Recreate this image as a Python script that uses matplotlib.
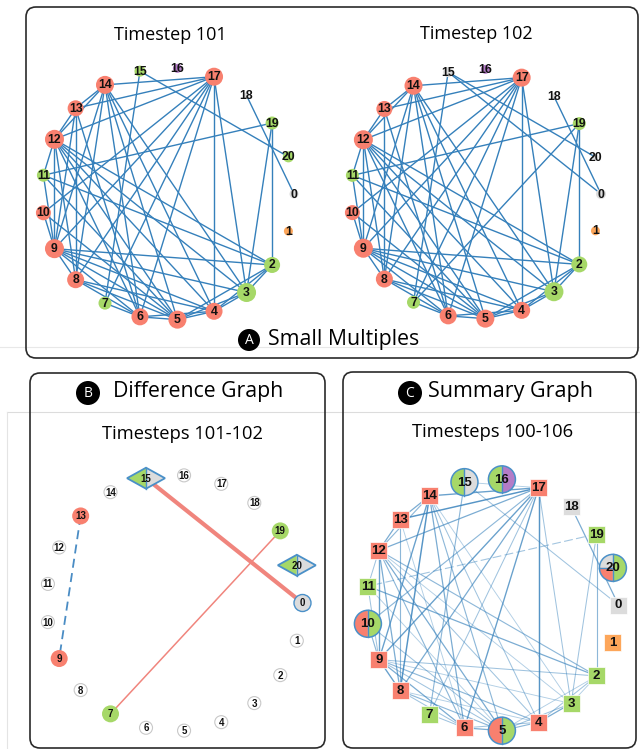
import numpy as np
import matplotlib.pyplot as plt
from matplotlib.patches import Circle, Wedge, Rectangle, Polygon, FancyBboxPatch

N_NODES = 21

RED = "#F8806F"
GREEN = "#A6D868"
PURPLE = "#B47CC7"
GRAY = "#DCDCDC"
ORANGE = "#FDA65A"
EDGE_BLUE = "#3580BB"
OUTLINE_BLUE = "#4A90C8"
DIFF_RED = "#F0857D"

# node group per timestep (index = node id)
groups_101 = ["gray", "orange", "green", "green", "red", "red", "red", "green", "red", "red", "red",
              "green", "red", "red", "red", "green", "purple", "red", "gray", "green", "green"]
groups_102 = ["gray", "orange", "green", "green", "red", "red", "red", "green", "red", "red", "red",
              "green", "red", "red", "red", "gray", "purple", "red", "gray", "green", "gray"]

# node radius (px) per timestep
sizes_101 = [4.5, 4.5, 8, 9.5, 8.5, 9, 8.5, 6.5, 8.5, 9.5, 7.5, 6.5, 9.5, 8, 9, 5.5, 4.5, 9, 3, 6.5, 5.5]
sizes_102 = [5, 4.5, 8, 9.5, 8.5, 9, 8.5, 6.5, 8.5, 9.5, 7.5, 6.5, 9.5, 8, 9, 5, 4.5, 9, 3, 6.5, 3]

edges_101 = [
    (17, 14), (17, 13), (17, 12), (17, 10), (17, 9), (17, 8), (17, 7), (17, 6), (17, 4), (17, 3),
    (15, 20), (15, 7), (18, 0), (19, 11), (19, 2), (19, 3),
    (14, 13), (14, 12), (14, 9), (14, 8), (14, 6), (14, 5), (14, 4), (14, 3),
    (13, 12), (13, 9), (13, 8), (13, 6),
    (12, 11), (12, 9), (12, 8), (12, 6), (12, 5), (12, 4), (12, 3), (12, 2),
    (11, 9), (11, 5), (11, 2), (10, 9), (10, 5),
    (9, 8), (9, 6), (9, 5), (9, 4), (9, 3), (9, 2),
    (8, 6), (8, 5), (8, 4), (7, 6), (6, 5), (6, 4),
    (5, 4), (5, 3), (5, 2), (4, 3), (4, 2), (3, 2),
]
edges_removed = [(13, 9)]
edges_added = [(15, 0), (7, 19)]
added_widths = [3.0, 1.1]
edges_102 = [e for e in edges_101 if e not in edges_removed] + edges_added

# difference graph: nodes touched by a change, nodes that changed group
diff_nodes = {13: RED, 9: RED, 19: GREEN, 7: GREEN, 0: GRAY}
diff_changed = [15, 20]

# summary graph: number of timesteps (out of 7) each edge appears in
summary_edges = [
    (17, 14, 6), (17, 13, 7), (17, 12, 5), (17, 10, 4), (17, 9, 6), (17, 8, 5), (17, 7, 3),
    (17, 6, 6), (17, 4, 7), (17, 3, 3), (15, 17, 2), (15, 0, 3), (15, 7, 4), (18, 0, 5),
    (19, 2, 4), (19, 3, 3), (14, 13, 5), (14, 12, 4), (14, 9, 6), (14, 8, 7), (14, 6, 5),
    (14, 5, 4), (14, 4, 3), (14, 3, 2), (13, 12, 5), (13, 8, 4), (13, 6, 2), (12, 11, 3),
    (12, 9, 6), (12, 8, 5), (12, 6, 4), (12, 5, 5), (12, 4, 3), (12, 3, 2), (12, 2, 4),
    (11, 9, 3), (11, 5, 2), (11, 2, 5), (10, 9, 4), (10, 5, 3), (9, 8, 6), (9, 6, 5),
    (9, 5, 3), (9, 4, 4), (9, 3, 2), (9, 2, 3), (8, 6, 3), (8, 5, 4), (8, 4, 2), (7, 6, 3),
    (6, 5, 5), (6, 4, 3), (5, 4, 4), (5, 3, 3), (5, 2, 2), (4, 3, 5), (4, 2, 3), (3, 2, 2),
]
summary_dashed = [(19, 11)]

# summary node colours: one colour -> square, several -> pie
summary_colors = {
    0: ["gray"], 1: ["orange"], 2: ["green"], 3: ["green"], 4: ["red"], 5: ["red", "green"],
    6: ["red"], 7: ["green"], 8: ["red"], 9: ["red"], 10: ["red", "green"], 11: ["green"],
    12: ["red"], 13: ["red"], 14: ["red"], 15: ["green", "gray"], 16: ["green", "purple"],
    17: ["red"], 18: ["gray"], 19: ["green"], 20: ["gray", "red", "green"],
}

COLOR = {"red": RED, "green": GREEN, "purple": PURPLE, "gray": GRAY, "orange": ORANGE}
LABEL_FONT = "Liberation Sans"
TITLE_FONT = "Open Sans"


def circle_layout(cx, cy, r):
    ang = np.deg2rad(np.arange(N_NODES) * 360.0 / N_NODES)
    return {k: (cx + r * np.cos(a), cy + r * np.sin(a)) for k, a in enumerate(ang)}


def draw_edges(ax, pos, edges, **kw):
    for u, v in edges:
        ax.plot([pos[u][0], pos[v][0]], [pos[u][1], pos[v][1]], solid_capstyle="butt", **kw)


def draw_label(ax, xy, k, size):
    ax.text(xy[0], xy[1] + 0.5, str(k), ha="center", va="center", fontsize=size,
            fontweight="bold", family=LABEL_FONT, color="#111111", zorder=6)


def draw_timestep(ax, pos, edges, groups, sizes):
    draw_edges(ax, pos, edges, color=EDGE_BLUE, lw=1.0, zorder=1)
    for k in range(N_NODES):
        ax.add_patch(Circle(pos[k], sizes[k], facecolor=COLOR[groups[k]], edgecolor="none", zorder=4))
        draw_label(ax, pos[k], k, 8.8)


def draw_diamond(ax, xy, hw=19, hh=10.5):
    x, y = xy
    ax.add_patch(Polygon([(x - hw, y), (x, y - hh), (x, y + hh)], closed=True,
                         facecolor=GREEN, edgecolor="none", zorder=4))
    ax.add_patch(Polygon([(x, y - hh), (x + hw, y), (x, y + hh)], closed=True,
                         facecolor=GRAY, edgecolor="none", zorder=4))
    ax.add_patch(Polygon([(x - hw, y), (x, y - hh), (x + hw, y), (x, y + hh)], closed=True,
                         facecolor="none", edgecolor=OUTLINE_BLUE, lw=1.3, zorder=5))
    ax.plot([x, x], [y - hh, y + hh], color=OUTLINE_BLUE, lw=1.0, zorder=5)


def draw_pie(ax, xy, colors, r=13.5):
    x, y = xy
    if len(colors) == 2:
        spans = [(90, 270), (-90, 90)]
        dividers = [90, 270]
    else:
        # gray upper-left, red lower-left, green right half (y axis points down)
        spans = [(180, 270), (90, 180), (-90, 90)]
        dividers = [90, 270, 180]
    for c, (a0, a1) in zip(colors, spans):
        ax.add_patch(Wedge((x, y), r, a0, a1, facecolor=COLOR[c], edgecolor="none", zorder=4))
    ax.add_patch(Circle((x, y), r, facecolor="none", edgecolor=OUTLINE_BLUE, lw=1.1, zorder=5))
    for a in dividers:
        t = np.deg2rad(a)
        ax.plot([x, x + r * np.cos(t)], [y, y + r * np.sin(t)], color=OUTLINE_BLUE, lw=1.0, zorder=5)


def badge(ax, xy, letter, r):
    ax.add_patch(Circle(xy, r, facecolor="black", edgecolor="none", zorder=7))
    ax.text(xy[0], xy[1] + 0.5, letter, ha="center", va="center", color="white",
            fontsize=10, family=TITLE_FONT, zorder=8)


def panel_box(ax, x0, y0, x1, y1):
    ax.add_patch(FancyBboxPatch((x0, y0), x1 - x0, y1 - y0,
                                boxstyle="round,pad=0,rounding_size=10",
                                facecolor="none", edgecolor="#2a2a2a", lw=1.2, zorder=9))


fig = plt.figure(figsize=(6.4, 7.49), dpi=100)
ax = fig.add_axes([0, 0, 1, 1])
ax.set_xlim(0, 640)
ax.set_ylim(749, 0)
ax.axis("off")

# faint page rules behind the panels
ax.plot([0, 640], [347, 347], color="#e8e8e8", lw=0.8, zorder=0)
ax.plot([7, 640], [412, 412], color="#dcdcdc", lw=0.8, zorder=0)
ax.plot([7, 7], [412, 749], color="#e4e4e4", lw=0.8, zorder=0)

# A: small multiples
panel_box(ax, 26, 7, 638, 358)
pos_a1 = circle_layout(168, 194, 126)
pos_a2 = circle_layout(476, 194, 125)
draw_timestep(ax, pos_a1, edges_101, groups_101, sizes_101)
draw_timestep(ax, pos_a2, edges_102, groups_102, sizes_102)
ax.text(170, 35, "Timestep 101", ha="center", va="center", fontsize=13, family=TITLE_FONT)
ax.text(476, 34, "Timestep 102", ha="center", va="center", fontsize=13, family=TITLE_FONT)
badge(ax, (249, 340), "A", 11)
ax.text(268, 339, "Small Multiples", ha="left", va="center", fontsize=15.3, family=TITLE_FONT)

# B: difference graph
panel_box(ax, 30, 373, 325, 748)
pos_b = circle_layout(174.5, 603, 128)
draw_edges(ax, pos_b, [edges_added[0]], color=DIFF_RED, lw=added_widths[0], zorder=2)
draw_edges(ax, pos_b, [edges_added[1]], color=DIFF_RED, lw=added_widths[1], zorder=2)
draw_edges(ax, pos_b, edges_removed, color="#4A8CC4", lw=1.3, ls=(0, (5, 3)), zorder=2)
for k in range(N_NODES):
    if k in diff_changed:
        draw_diamond(ax, pos_b[k])
    elif k in diff_nodes:
        edge = OUTLINE_BLUE if k == 0 else "none"
        ax.add_patch(Circle(pos_b[k], 8.5, facecolor=diff_nodes[k], edgecolor=edge, lw=1.0, zorder=4))
    else:
        ax.add_patch(Circle(pos_b[k], 6.5, facecolor="white", edgecolor="#c8c8c8", lw=0.8, zorder=4))
    draw_label(ax, pos_b[k], k, 7)
badge(ax, (88, 393), "B", 12)
ax.text(113, 392, "Difference Graph", ha="left", va="center", fontsize=15.3, family=TITLE_FONT)
ax.text(182, 434, "Timesteps 101-102", ha="center", va="center", fontsize=13.2, family=TITLE_FONT)

# C: summary graph
panel_box(ax, 343, 372, 636, 748)
pos_c = circle_layout(492.5, 605, 126)
for u, v, n in summary_edges:
    ax.plot([pos_c[u][0], pos_c[v][0]], [pos_c[u][1], pos_c[v][1]], color=EDGE_BLUE,
            lw=0.5 + 0.08 * n, alpha=0.2 + 0.09 * n, zorder=1)
draw_edges(ax, pos_c, summary_dashed, color=EDGE_BLUE, lw=0.8, alpha=0.45, ls=(0, (8, 3)), zorder=1)
for k in range(N_NODES):
    cols = summary_colors[k]
    if len(cols) == 1:
        x, y = pos_c[k]
        ax.add_patch(Rectangle((x - 8.5, y - 8.5), 17, 17, facecolor=COLOR[cols[0]],
                               edgecolor="white", lw=0.5, zorder=4))
    else:
        draw_pie(ax, pos_c[k], cols)
    draw_label(ax, pos_c[k], k, 9.5)
badge(ax, (410, 393), "C", 12)
ax.text(428, 392, "Summary Graph", ha="left", va="center", fontsize=15.5, family=TITLE_FONT)
ax.text(493, 432, "Timesteps 100-106", ha="center", va="center", fontsize=13.2, family=TITLE_FONT)

fig.savefig("out.png", dpi=100)
